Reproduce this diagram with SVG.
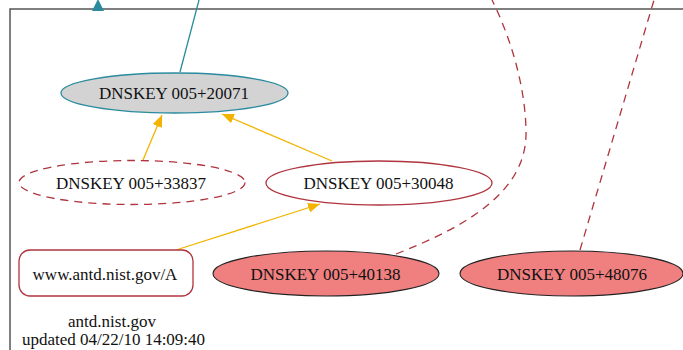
<svg xmlns="http://www.w3.org/2000/svg" width="683" height="350" viewBox="0 0 683 350">
  <style>
    text { font-family: "Liberation Serif", "Times New Roman", serif; font-size: 17px; fill: #111; text-anchor: middle; }
    .cluster { fill: none; stroke: #555; stroke-width: 1.5; }
    .sign { fill: none; stroke: #f3b400; stroke-width: 1.3; }
    .teal { fill: none; stroke: #2a8b9e; stroke-width: 1.3; }
    .rev { fill: none; stroke: #b0343e; stroke-width: 1.3; stroke-dasharray: 8 6; }
    .ksk { fill: #d3d3d3; stroke: #2a8b9e; stroke-width: 1.3; }
    .key { fill: #fff; stroke: #b0343e; stroke-width: 1.3; }
    .keydash { fill: #fff; stroke: #b0343e; stroke-width: 1.3; stroke-dasharray: 8 6; }
    .bad { fill: #f08080; stroke: #222; stroke-width: 1.1; }
  </style>
  <defs>
    <marker id="arrY" viewBox="0 0 12 10" refX="12" refY="5" markerWidth="12" markerHeight="10" markerUnits="userSpaceOnUse" orient="auto">
      <path d="M0,0 L12,5 L0,10 z" fill="#f3b400"/>
    </marker>
  </defs>

  <rect class="cluster" x="10" y="9" width="690" height="360"/>

  <g id="connectors">
    <line class="teal" x1="180" y1="72" x2="199" y2="0"/>
    <polygon points="92,11 104,11 98,-1" fill="#2a8b9e"/>
    <line class="sign" x1="143" y1="160" x2="162" y2="115" marker-end="url(#arrY)"/>
    <line class="sign" x1="332" y1="161" x2="222" y2="114" marker-end="url(#arrY)"/>
    <line class="sign" x1="176" y1="250" x2="320" y2="204" marker-end="url(#arrY)"/>
    <path class="rev" d="M396,254 C470,225 528,190 526,130 C525,80 507,30 492,0"/>
    <path class="rev" d="M580,250 L654,0"/>
  </g>

  <g id="key20071">
    <ellipse class="ksk" cx="174.5" cy="93" rx="113.5" ry="20"/>
    <text x="174" y="99">DNSKEY 005+20071</text>
  </g>
  <g id="key33837">
    <ellipse class="keydash" cx="132" cy="182.5" rx="113" ry="22"/>
    <text x="131" y="189">DNSKEY 005+33837</text>
  </g>
  <g id="key30048">
    <ellipse class="key" cx="379" cy="183" rx="113" ry="22"/>
    <text x="378.5" y="189">DNSKEY 005+30048</text>
  </g>
  <g id="rrsetA">
    <rect class="key" x="19" y="250" width="174" height="46" rx="11"/>
    <text x="105" y="280">www.antd.nist.gov/A</text>
  </g>
  <g id="key40138">
    <ellipse class="bad" cx="326" cy="273.5" rx="113" ry="22.5"/>
    <text x="325.5" y="280">DNSKEY 005+40138</text>
  </g>
  <g id="key48076">
    <ellipse class="bad" cx="571.5" cy="273.5" rx="111.5" ry="22.5"/>
    <text x="572" y="280">DNSKEY 005+48076</text>
  </g>

  <g id="label">
    <text x="112" y="327">antd.nist.gov</text>
    <text x="113.5" y="345">updated 04/22/10 14:09:40</text>
  </g>
</svg>
